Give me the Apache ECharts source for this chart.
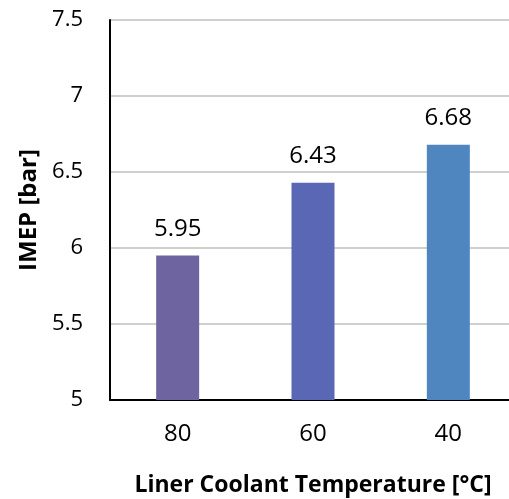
<!DOCTYPE html>
<html>
<head>
<meta charset="utf-8">
<script src="https://cdn.jsdelivr.net/npm/echarts@6/dist/echarts.min.js"></script>
<style>
  html, body { margin: 0; padding: 0; background: #fff; overflow: hidden; }
  #chart { width: 520px; height: 499px; }
</style>
</head>
<body>
<div id="chart"></div>
<script>
// data
var temperaturas = ["80", "60", "40"];
var imep = [5.95, 6.43, 6.68];
var coloresBarras = ["#6E64A0", "#5A67B4", "#4F86BF"];

var fuente = "'Open Sans', sans-serif";

var dom = document.getElementById("chart");
var myChart = echarts.init(dom, null, { renderer: "canvas" });

var option = {
  animation: false,
  grid: {
    left: 110,
    top: 20,
    width: 406,
    height: 380,
    containLabel: false,
    outerBoundsMode: "none",
  },
  xAxis: {
    type: "category",
    data: temperaturas,
    name: "Liner Coolant Temperature [°C]",
    nameLocation: "middle",
    nameGap: 74,
    nameTextStyle: {
      fontFamily: fuente,
      fontWeight: "bold",
      fontSize: 23,
      color: "#000",
    },
    axisLine: { lineStyle: { color: "#000", width: 2 } },
    axisTick: { show: false },
    axisLabel: {
      fontFamily: fuente,
      fontSize: 24,
      color: "#000",
      margin: 22,
    },
  },
  yAxis: {
    type: "value",
    min: 5,
    max: 7.5,
    interval: 0.5,
    name: "IMEP [bar]",
    nameLocation: "middle",
    nameGap: 68,
    nameTextStyle: {
      fontFamily: fuente,
      fontWeight: "bold",
      fontSize: 24,
      color: "#000",
    },
    axisLine: { show: true, lineStyle: { color: "#000", width: 2 } },
    axisTick: { show: false },
    splitLine: { lineStyle: { color: "#BFBFBF", width: 1.5 } },
    axisLabel: {
      fontFamily: fuente,
      fontSize: 22,
      color: "#000",
      margin: 27,
      formatter: function (v) {
        return String(v);
      },
    },
  },
  series: [
    {
      type: "bar",
      barWidth: 43,
      data: imep.map(function (v, i) {
        return { value: v, itemStyle: { color: coloresBarras[i] } };
      }),
      label: {
        show: true,
        position: "top",
        distance: 14,
        fontFamily: fuente,
        fontSize: 24,
        color: "#000",
      },
    },
  ],
};

myChart.setOption(option, true);
</script>
</body>
</html>
